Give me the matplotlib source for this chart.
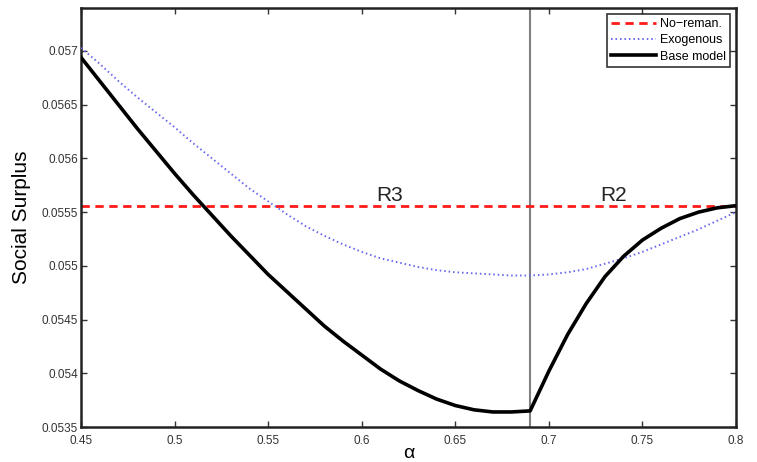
import numpy as np
import matplotlib
matplotlib.use("Agg")
import matplotlib.pyplot as plt

plt.rcParams['font.family'] = ['Liberation Sans', 'DejaVu Sans']

# alpha values, every 0.01 from 0.45 to 0.80
alpha = [0.45, 0.46, 0.47, 0.48, 0.49, 0.50, 0.51, 0.52, 0.53, 0.54,
         0.55, 0.56, 0.57, 0.58, 0.59, 0.60, 0.61, 0.62, 0.63, 0.64,
         0.65, 0.66, 0.67, 0.68, 0.69, 0.70, 0.71, 0.72, 0.73, 0.74,
         0.75, 0.76, 0.77, 0.78, 0.79, 0.80]

# Base model
base_model = [0.05694, 0.05672, 0.05650, 0.05628, 0.05607, 0.05586, 0.05566, 0.05547, 0.05528, 0.05510,
              0.05492, 0.05476, 0.05460, 0.05444, 0.05430, 0.05417, 0.05404, 0.05393, 0.05384, 0.05376,
              0.05370, 0.05366, 0.05364, 0.05364, 0.05365, 0.05402, 0.05436, 0.05465, 0.05490, 0.05509,
              0.05524, 0.05535, 0.05544, 0.05550, 0.05554, 0.05556]

# Exogenous
exogenous = [0.05703, 0.05688, 0.05672, 0.05657, 0.05643, 0.05629, 0.05614, 0.05600, 0.05586, 0.05572,
             0.05560, 0.05548, 0.05537, 0.05528, 0.05520, 0.05513, 0.05507, 0.05503, 0.05499, 0.05496,
             0.05494, 0.05493, 0.05492, 0.05491, 0.05491, 0.05492, 0.05494, 0.05497, 0.05502, 0.05507,
             0.05513, 0.05520, 0.05527, 0.05534, 0.05542, 0.05550]

no_reman = 0.055556
alpha_switch = 0.69

xticks = [0.45, 0.5, 0.55, 0.6, 0.65, 0.7, 0.75, 0.8]
xtick_labels = ['0.45', '0.5', '0.55', '0.6', '0.65', '0.7', '0.75', '0.8']
yticks = [0.0535, 0.054, 0.0545, 0.055, 0.0555, 0.056, 0.0565, 0.057]
ytick_labels = ['0.0535', '0.054', '0.0545', '0.055', '0.0555', '0.056', '0.0565', '0.057']

fig = plt.figure(figsize=(7.57, 4.62), dpi=100)
ax = fig.add_axes([81/757, 1 - 427/462, (736 - 81)/757, (427 - 8)/462])

ax.axvline(alpha_switch, color='#808080', lw=1.5, zorder=1)
ax.axhline(no_reman, color='#ff1a1a', lw=2, dashes=(3, 2), label='No\u2212reman.', zorder=2)
ax.plot(alpha, exogenous, color='#6a6aee', lw=1.4, dashes=(0.8, 1.5), label='Exogenous', zorder=3)
ax.plot(alpha, base_model, color='black', lw=2.6, label='Base model', zorder=4,
        solid_joinstyle='round')

ax.text(0.615, 0.05557, 'R3', fontsize=15, ha='center', va='bottom', color='#222222')
ax.text(0.7345, 0.05557, 'R2', fontsize=15, ha='center', va='bottom', color='#222222')

ax.set_xlim(0.45, 0.8)
ax.set_ylim(0.0535, 0.0574)
ax.set_xticks(xticks)
ax.set_xticklabels(xtick_labels)
ax.set_yticks(yticks)
ax.set_yticklabels(ytick_labels)
ax.tick_params(direction='in', top=True, right=True, labelsize=8.5, length=4, width=1,
               colors='#333333', labelcolor='#333333')
ax.tick_params(axis='x', pad=6)
ax.tick_params(axis='y', pad=2)
for s in ax.spines.values():
    s.set_linewidth(1.8)
    s.set_color('#222222')

ax.set_xlabel('\u03b1', fontsize=14, labelpad=-2)
ax.set_ylabel('Social Surplus', fontsize=15, labelpad=8)

leg = ax.legend(loc='upper right', fontsize=9, handlelength=3.6, frameon=True, fancybox=False,
                edgecolor='black', borderpad=0.35, labelspacing=0.35, handletextpad=0.3,
                borderaxespad=0.45)
leg.get_frame().set_linewidth(1.2)

fig.savefig('out.png', dpi=100)
